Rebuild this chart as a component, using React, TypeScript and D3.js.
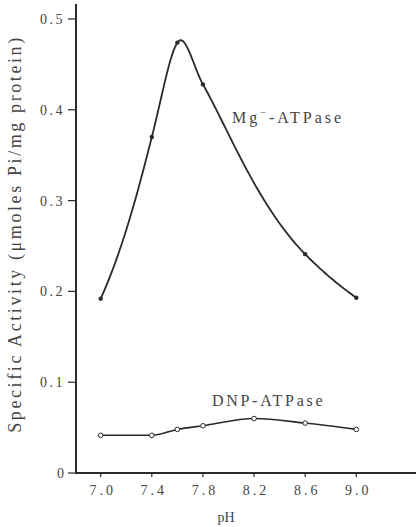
import React from "react";
import * as d3 from "d3";

const mgPH = [7.0, 7.4, 7.6, 7.8, 8.6, 9.0];
const mgActivity = [0.192, 0.37, 0.474, 0.428, 0.241, 0.193];
const dnpPH = [7.0, 7.4, 7.6, 7.8, 8.2, 8.6, 9.0];
const dnpActivity = [0.0415, 0.0415, 0.048, 0.052, 0.06, 0.055, 0.048];
const xTicks = [7.0, 7.4, 7.8, 8.2, 8.6, 9.0];
const yTicks = [0, 0.1, 0.2, 0.3, 0.4, 0.5];

const W = 416;
const H = 527;
const FONT = "'Liberation Serif', 'DejaVu Serif', serif";
const INK = "#2a2a2a";

// Smooth peak-shaped curve: cubic Hermite spline on the reciprocal of the height above baseline.
function reciprocalCurve(baseline: number) {
  return (context: any) => {
    let xs: number[] = [];
    let ys: number[] = [];
    return {
      areaStart() {},
      areaEnd() {},
      lineStart() {
        xs = [];
        ys = [];
      },
      point(px: number, py: number) {
        xs.push(+px);
        ys.push(+py);
      },
      lineEnd() {
        const n = xs.length;
        if (!n) return;
        context.moveTo(xs[0], ys[0]);
        if (n < 3) {
          for (let i = 1; i < n; i++) context.lineTo(xs[i], ys[i]);
          return;
        }
        const u = ys.map((py) => 1 / (baseline - py));
        const h: number[] = [];
        const s: number[] = [];
        for (let i = 0; i < n - 1; i++) {
          h[i] = xs[i + 1] - xs[i];
          s[i] = (u[i + 1] - u[i]) / h[i];
        }
        const d: number[] = new Array(n);
        for (let i = 1; i < n - 1; i++) {
          d[i] = (h[i] * s[i - 1] + h[i - 1] * s[i]) / (h[i - 1] + h[i]);
        }
        d[0] = ((2 * h[0] + h[1]) * s[0] - h[0] * s[1]) / (h[0] + h[1]);
        d[n - 1] =
          ((2 * h[n - 2] + h[n - 3]) * s[n - 2] - h[n - 2] * s[n - 3]) / (h[n - 3] + h[n - 2]);
        for (let i = 0; i < n - 1; i++) {
          const steps = Math.max(2, Math.ceil(h[i] / 1.5));
          for (let k = 1; k <= steps; k++) {
            const t = k / steps;
            const t2 = t * t;
            const t3 = t2 * t;
            const uu =
              (2 * t3 - 3 * t2 + 1) * u[i] +
              (t3 - 2 * t2 + t) * h[i] * d[i] +
              (-2 * t3 + 3 * t2) * u[i + 1] +
              (t3 - t2) * h[i] * d[i + 1];
            context.lineTo(xs[i] + t * h[i], baseline - 1 / uu);
          }
        }
      },
    };
  };
}

export default function App() {
  const x = d3.scaleLinear().domain([7.0, 9.0]).range([100.7, 356.3]);
  const y = d3.scaleLinear().domain([0, 0.5]).range([473, 19]);
  const axisX0 = 76;
  const axisY0 = 473;

  const mgData = mgPH.map((p, i) => [p, mgActivity[i]] as [number, number]);
  const dnpData = dnpPH.map((p, i) => [p, dnpActivity[i]] as [number, number]);

  const mgLine = d3
    .line<[number, number]>()
    .x((d) => x(d[0]))
    .y((d) => y(d[1]))
    .curve(reciprocalCurve(y(0)) as any);

  const dnpLine = d3
    .line<[number, number]>()
    .x((d) => x(d[0]))
    .y((d) => y(d[1]))
    .curve(d3.curveMonotoneX);

  return (
    <svg
      width={W}
      height={H}
      style={{ position: "absolute", left: 0, top: 0, background: "#fff" }}
      fontFamily={FONT}
    >
      <rect x={0} y={0} width={W} height={H} fill="#fff" />
      <line x1={axisX0} y1={4} x2={axisX0} y2={axisY0 + 1} stroke={INK} strokeWidth={2} />
      <line x1={axisX0 - 1} y1={axisY0} x2={416} y2={axisY0} stroke={INK} strokeWidth={2} />
      {yTicks.map((t) => (
        <g key={"y" + t}>
          <line x1={axisX0 - 8} x2={axisX0} y1={y(t)} y2={y(t)} stroke={INK} strokeWidth={1.2} />
          <text
            x={t === 0 ? 64 : 65}
            y={y(t) + 5}
            textAnchor="end"
            fontSize={14}
            letterSpacing={t === 0 ? 0 : 2.5}
            fill="#444"
          >
            {t === 0 ? "0" : t.toFixed(1)}
          </text>
        </g>
      ))}
      {xTicks.map((t) => (
        <g key={"x" + t}>
          <line x1={x(t)} x2={x(t)} y1={axisY0} y2={axisY0 + 4} stroke={INK} strokeWidth={1.2} />
          <text x={x(t) + 2} y={495} textAnchor="middle" fontSize={14} letterSpacing={3} fill="#444">
            {t.toFixed(1)}
          </text>
        </g>
      ))}
      <text x={226} y={522} textAnchor="middle" fontSize={14} fill="#444">
        pH
      </text>
      <text
        transform={`translate(21, 234) rotate(-90)`}
        textAnchor="middle"
        fontSize={18}
        letterSpacing={2.6}
        fill="#444"
      >
        Specific Activity (μmoles Pi/mg protein)
      </text>

      <path d={mgLine(mgData) || ""} fill="none" stroke={INK} strokeWidth={1.8} />
      {mgData.map((d, i) => (
        <circle key={"m" + i} cx={x(d[0])} cy={y(d[1])} r={2.2} fill={INK} />
      ))}
      <text x={232} y={123} fontSize={16} letterSpacing={3} fill="#444">
        Mg
        <tspan fontSize={10} dy={-7}>
          −
        </tspan>
        <tspan dy={7}>-ATPase</tspan>
      </text>

      <path d={dnpLine(dnpData) || ""} fill="none" stroke={INK} strokeWidth={1.6} />
      {dnpData.map((d, i) => (
        <circle key={"d" + i} cx={x(d[0])} cy={y(d[1])} r={2.3} fill="#fff" stroke={INK} strokeWidth={1} />
      ))}
      <text x={212} y={406} fontSize={16} letterSpacing={2.7} fill="#444">
        DNP-ATPase
      </text>
    </svg>
  );
}
